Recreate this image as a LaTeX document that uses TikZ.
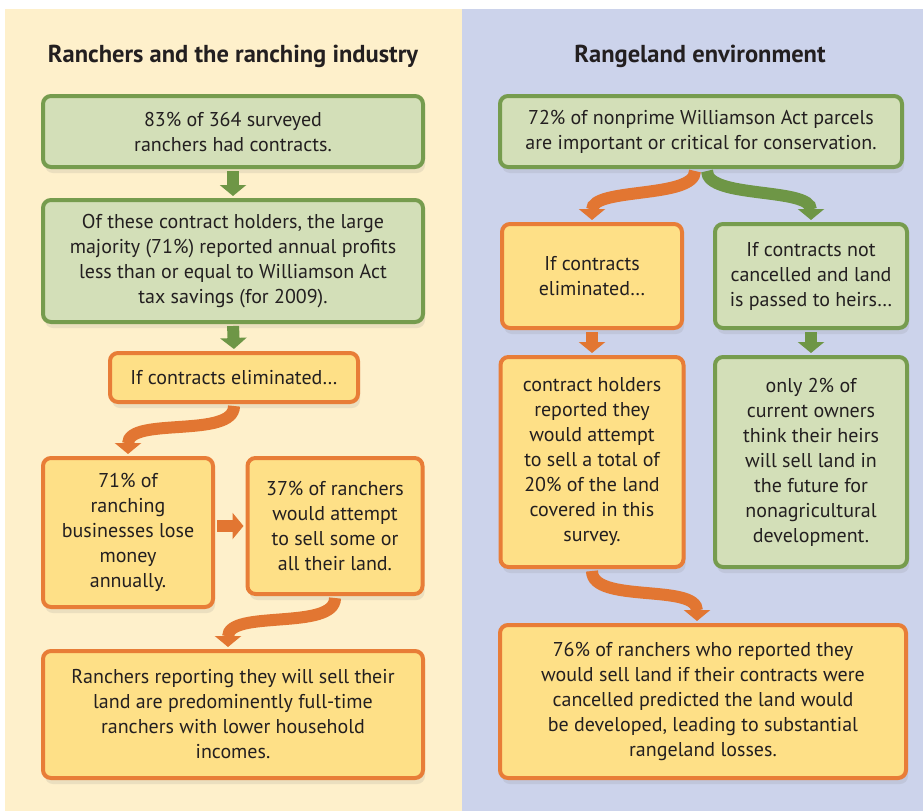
\documentclass[tikz,border=0pt]{standalone}
\usepackage{fontspec}
\setmainfont{PT Sans}
\usepackage{tikz}
\usetikzlibrary{arrows.meta,shadows}

\definecolor{ink}{HTML}{231F20}
\definecolor{creampanel}{HTML}{FEF0CB}
\definecolor{bluepanel}{HTML}{CCD3EB}
\definecolor{grnedge}{HTML}{769C4E}
\definecolor{grnfill}{HTML}{D3DFB8}
\definecolor{grnarrow}{HTML}{6E9646}
\definecolor{orgedge}{HTML}{E87D37}
\definecolor{orgfill}{HTML}{FEE087}
\definecolor{orgarrow}{HTML}{E27632}

\begin{document}
\begin{tikzpicture}[x=1pt, y=-1pt,
  every node/.style={rectangle, rounded corners=8pt, line width=4pt,
    align=center, inner sep=0pt, text=ink,
    font=\fontsize{20}{25}\selectfont},
  heading/.style={font=\fontsize{24.5}{28}\selectfont\bfseries},
  greenbox/.style={draw=grnedge, fill=grnfill,
    drop shadow={shadow xshift=2pt, shadow yshift=-6pt, opacity=0.15}},
  orangebox/.style={draw=orgedge, fill=orgfill,
    drop shadow={shadow xshift=2pt, shadow yshift=-6pt, opacity=0.15}},
  fatarrow/.style={line width=12pt, shorten >=2pt, shorten <=2pt,
    -{Triangle[width=26pt,length=11pt]}}]

  \useasboundingbox (0,0) rectangle (923,811);
  \fill[creampanel] (5,9) rectangle (462,811);
  \fill[bluepanel] (462,9) rectangle (923,811);

  % ranchers side
  \node[heading] (lefthead) at (233,56) {Ranchers and the ranching industry};
  \node[greenbox, minimum width=380pt, minimum height=71pt] (contracts) at (233,131.5)
    {83\% of 364 surveyed\\ranchers had contracts.};
  \node[greenbox, minimum width=380pt, minimum height=122pt] (profits) at (233,261)
    {Of these contract holders, the large\\majority (71\%) reported annual profits\\less than or equal to Williamson Act\\tax savings (for 2009).};
  \node[orangebox, minimum width=248pt, minimum height=49pt] (eliminated) at (234,377.5)
    {If contracts eliminated…};
  \node[orangebox, minimum width=170pt, minimum height=149pt] (losemoney) at (128,532.5)
    {71\% of\\ranching\\businesses lose\\money\\annually.};
  \node[orangebox, minimum width=175pt, minimum height=136pt] (sellland) at (335,526)
    {37\% of ranchers\\would attempt\\to sell some or\\all their land.};
  \node[orangebox, minimum width=380pt, minimum height=127pt] (fulltime) at (233,714.5)
    {Ranchers reporting they will sell their\\land are predominently full-time\\ranchers with lower household\\incomes.};

  \draw[fatarrow, grnarrow] (contracts.south) -- (profits.north);
  \draw[fatarrow, grnarrow] (profits.south) -- (eliminated.north);
  \draw[fatarrow, orgarrow] (eliminated.south) .. controls +(0,35) and +(0,-40) .. (losemoney.north);
  \draw[fatarrow, orgarrow] (losemoney.east |- sellland.west) -- (sellland.west);
  \draw[fatarrow, orgarrow] (sellland.south) .. controls +(0,35) and +(0,-40) .. ([xshift=-5pt]fulltime.north);

  % rangeland side
  \node[heading] (righthead) at (700,56) {Rangeland environment};
  \node[greenbox, minimum width=402pt, minimum height=71pt] (parcels) at (701,131.5)
    {72\% of nonprime Williamson Act parcels\\are important or critical for conservation.};
  \node[orangebox, minimum width=180pt, minimum height=104pt] (cutoff) at (592,276)
    {If contracts\\eliminated…};
  \node[greenbox, minimum width=192pt, minimum height=104pt] (heirs) at (811,276)
    {If contracts not\\cancelled and land\\is passed to heirs…};
  \node[orangebox, minimum width=183pt, minimum height=210pt] (sellshare) at (592,462)
    {contract holders\\reported they\\would attempt\\to sell a total of\\20\% of the land\\covered in this\\survey.};
  \node[greenbox, minimum width=192pt, minimum height=210pt] (fewsell) at (811,462)
    {only 2\% of\\current owners\\think their heirs\\will sell land in\\the future for\\nonagricultural\\development.};
  \node[orangebox, minimum width=406pt, minimum height=153pt] (losses) at (703,701.5)
    {76\% of ranchers who reported they\\would sell land if their contracts were\\cancelled predicted the land would\\be developed, leading to substantial\\rangeland losses.};

  \draw[fatarrow, orgarrow] ([xshift=-6pt]parcels.south) .. controls +(0,30) and +(0,-35) .. (cutoff.north);
  \draw[fatarrow, grnarrow] ([xshift=6pt]parcels.south) .. controls +(0,30) and +(0,-35) .. (heirs.north);
  \draw[fatarrow, orgarrow] (cutoff.south) -- (sellshare.north);
  \draw[fatarrow, grnarrow] (heirs.south) -- (fewsell.north);
  \draw[fatarrow, orgarrow] (sellshare.south) .. controls +(0,35) and +(0,-40) .. ([xshift=-6pt]losses.north);
\end{tikzpicture}
\end{document}
